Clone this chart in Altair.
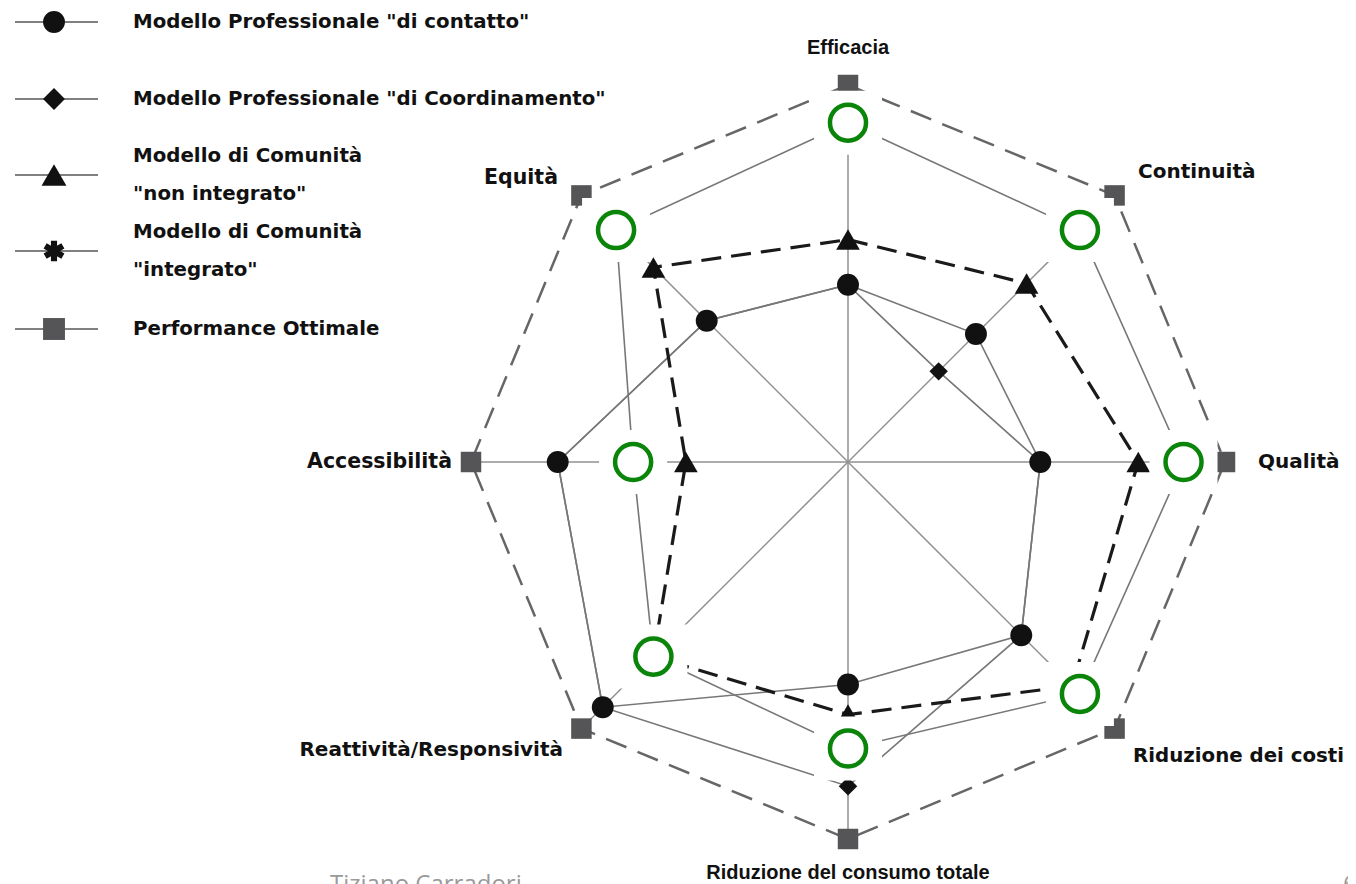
import numpy as np
import pandas as pd
import altair as alt

# ---------------- data ----------------
categories = ["Efficacia", "Continuità", "Qualità", "Riduzione dei costi",
              "Riduzione del consumo totale", "Reattività/Responsività",
              "Accessibilità", "Equità"]
contatto = [4.7, 4.8, 5.1, 6.5, 5.9, 9.2, 7.7, 5.3]
coordinamento = [4.7, 3.4, 5.1, 6.5, 8.6, 9.2, 7.7, 5.3]
non_integrato = [5.9, 6.7, 7.7, 8.4, 6.7, 7.3, 4.3, 7.3]
integrato = [9.0, 8.7, 8.9, 8.7, 7.6, 7.3, 5.7, 8.7]
ottimale = [10, 10, 10, 10, 10, 10, 10, 10]

legend_labels = [['Modello Professionale "di contatto"'],
                 ['Modello Professionale "di Coordinamento"'],
                 ['Modello di Comunità', '"non integrato"'],
                 ['Modello di Comunità', '"integrato"'],
                 ['Performance Ottimale']]
footer_text = "Tiziano Carradori"
page_number = "6"

# ---------------- layout ----------------
W, H = 1340, 876
OFF = 8
CX, CY = 848, 462
PPU = 37.7
xs = alt.Scale(domain=[(OFF - CX) / PPU, (OFF + W - CX) / PPU], nice=False, zero=False)
ys = alt.Scale(domain=[(CY - (OFF + H)) / PPU, (CY - OFF) / PPU], nice=False, zero=False)
angles = [np.pi / 2 - i * np.pi / 4 for i in range(8)]

series_list = [("contatto", contatto), ("coordinamento", coordinamento),
               ("non_integrato", non_integrato), ("integrato", integrato),
               ("ottimale", ottimale)]
rows = []
for name, vals in series_list:
    for k in range(9):
        i = k % 8
        rows.append(dict(series=name, axis=categories[i], order=k, value=vals[i],
                         x=vals[i] * np.cos(angles[i]), y=vals[i] * np.sin(angles[i]),
                         marker=(k < 8)))
df = pd.DataFrame(rows)

spokes = pd.DataFrame([dict(axis=categories[i], x0=0.0, y0=0.0,
                            x=ottimale[i] * np.cos(angles[i]),
                            y=ottimale[i] * np.sin(angles[i])) for i in range(8)])

X = alt.X("x:Q", scale=xs, axis=None)
Y = alt.Y("y:Q", scale=ys, axis=None)


def line(name, color, width, dash=None):
    kw = dict(color=color, strokeWidth=width, strokeCap="butt", strokeJoin="miter")
    if dash:
        kw["strokeDash"] = dash
    return (alt.Chart(df).transform_filter(alt.datum.series == name)
            .mark_line(**kw).encode(x=X, y=Y, order="order:Q"))


def pts(name):
    return alt.Chart(df).transform_filter((alt.datum.series == name) & alt.datum.marker)


def points(name, shape, size, fill):
    return (pts(name).mark_point(filled=True, opacity=1, strokeWidth=0)
            .encode(x=X, y=Y, shape=alt.value(shape), size=alt.value(size),
                    fill=alt.value(fill)))


def rotated_bar(a, L=1.0, w=0.3):
    c, s = np.cos(a), np.sin(a)
    p = [(L, w), (-L, w), (-L, -w), (L, -w)]
    p = [(px * c - py * s, px * s + py * c) for px, py in p]
    return "M" + "L".join(f"{px:.3f},{py:.3f}" for px, py in p) + "Z"


asterisk = "".join(rotated_bar(a) for a in [np.pi / 2, np.pi / 2 + np.pi / 3, np.pi / 2 + 2 * np.pi / 3])

spoke_layer = alt.Chart(spokes).mark_rule(color="#909090", strokeWidth=1.5).encode(
    x=alt.X("x0:Q", scale=xs, axis=None), y=alt.Y("y0:Q", scale=ys, axis=None),
    x2="x:Q", y2="y:Q")

GRAY_LINE = "#777777"
layers = [
    spoke_layer,
    line("ottimale", "#666666", 2.5, [22, 12]),
    line("contatto", GRAY_LINE, 1.6),
    line("coordinamento", GRAY_LINE, 1.6),
    line("integrato", GRAY_LINE, 1.6),
    line("non_integrato", "#1a1a1a", 3.2, [20, 10]),
    points("ottimale", "square", 420, "#555558"),
    points("integrato", asterisk, 300, "#111111"),
    points("coordinamento", "diamond", 340, "#111111"),
    points("contatto", "circle", 480, "#111111"),
    points("non_integrato", "triangle-up", 560, "#111111"),
    # white cover boxes + green highlight circles
    (pts("integrato").mark_rect(color="white", opacity=1,
                                xOffset=-34, x2Offset=34, yOffset=-32, y2Offset=32)
     .encode(x=X, x2="x:Q", y=Y, y2="y:Q")),
    (pts("integrato").mark_point(filled=False, opacity=1, strokeWidth=4.5)
     .encode(x=X, y=Y, shape=alt.value("circle"), size=alt.value(1300),
             stroke=alt.value("#0a850a"))),
]

# ---------------- axis labels ----------------
lab_pos = [(848, 48, "center", 20, "Liberation Sans"),
           (1138, 172, "left", 20, "DejaVu Sans"),
           (1258, 462, "left", 20, "DejaVu Sans"),
           (1133, 756, "left", 19.8, "DejaVu Sans"),
           (848, 873, "center", 20, "Liberation Sans"),
           (563, 750, "right", 20, "DejaVu Sans"),
           (452, 462, "right", 20.5, "DejaVu Sans"),
           (558, 178, "right", 20.5, "DejaVu Sans")]
labdf = pd.DataFrame([dict(text=categories[i], px=lab_pos[i][0] - OFF, py=lab_pos[i][1] - OFF,
                           al=lab_pos[i][2], fs=lab_pos[i][3], ff=lab_pos[i][4]) for i in range(8)])
for al in ["left", "center", "right"]:
    for ff in ["Liberation Sans", "DejaVu Sans"]:
        sub = labdf[(labdf.al == al) & (labdf.ff == ff)]
        if len(sub) == 0:
            continue
        layers.append(alt.Chart(sub)
                      .mark_text(align=al, baseline="middle", font=ff, fontWeight="bold",
                                 color="#111111")
                      .encode(x=alt.X("px:Q", scale=None), y=alt.Y("py:Q", scale=None),
                              text="text:N", size=alt.Size("fs:Q", scale=None, legend=None)))

# ---------------- legend ----------------
leg_y = [22, 99, 175, 251, 329]
leg_shapes = ["circle", "diamond", "triangle-up", asterisk, "square"]
leg_sizes = [480, 480, 620, 420, 480]
leg_fill = ["#111111", "#111111", "#111111", "#111111", "#555558"]
legdf = pd.DataFrame([dict(y=leg_y[i] - OFF, x1=15 - OFF, x2=98 - OFF, mx=54 - OFF,
                           shape=leg_shapes[i], size=leg_sizes[i], fill=leg_fill[i])
                      for i in range(5)])
layers.append(alt.Chart(legdf).mark_rule(color="#808080", strokeWidth=2).encode(
    x=alt.X("x1:Q", scale=None), x2="x2:Q", y=alt.Y("y:Q", scale=None)))
layers.append(alt.Chart(legdf).mark_point(filled=True, opacity=1, strokeWidth=0).encode(
    x=alt.X("mx:Q", scale=None), y=alt.Y("y:Q", scale=None),
    shape=alt.Shape("shape:N", scale=None, legend=None),
    size=alt.Size("size:Q", scale=None, legend=None),
    fill=alt.Fill("fill:N", scale=None, legend=None)))

leg_text_rows = []
for i, lines in enumerate(legend_labels):
    ys_ = [leg_y[i]] if len(lines) == 1 else [leg_y[i] - 19, leg_y[i] + 19]
    for t, yy in zip(lines, ys_):
        leg_text_rows.append(dict(text=t, px=133 - OFF, py=yy - OFF))
legtxt = pd.DataFrame(leg_text_rows)
layers.append(alt.Chart(legtxt).mark_text(align="left", baseline="middle", font="DejaVu Sans",
                                          fontWeight="bold", fontSize=19.8, color="#111111")
              .encode(x=alt.X("px:Q", scale=None), y=alt.Y("py:Q", scale=None), text="text:N"))

# ---------------- footer ----------------
footdf = pd.DataFrame([dict(text=footer_text, px=330 - OFF, py=873 - OFF),
                       dict(text=page_number, px=1343 - OFF, py=873 - OFF)])
layers.append(alt.Chart(footdf).mark_text(align="left", baseline="top", font="Open Sans",
                                          fontSize=24, color="#9a9a9a")
              .encode(x=alt.X("px:Q", scale=None), y=alt.Y("py:Q", scale=None), text="text:N"))

chart = (alt.layer(*layers)
         .properties(width=W, height=H, padding=0, autosize="none", background="white")
         .configure_view(stroke=None))

chart.save("out.html", embed_options={"renderer": "svg", "actions": False})
